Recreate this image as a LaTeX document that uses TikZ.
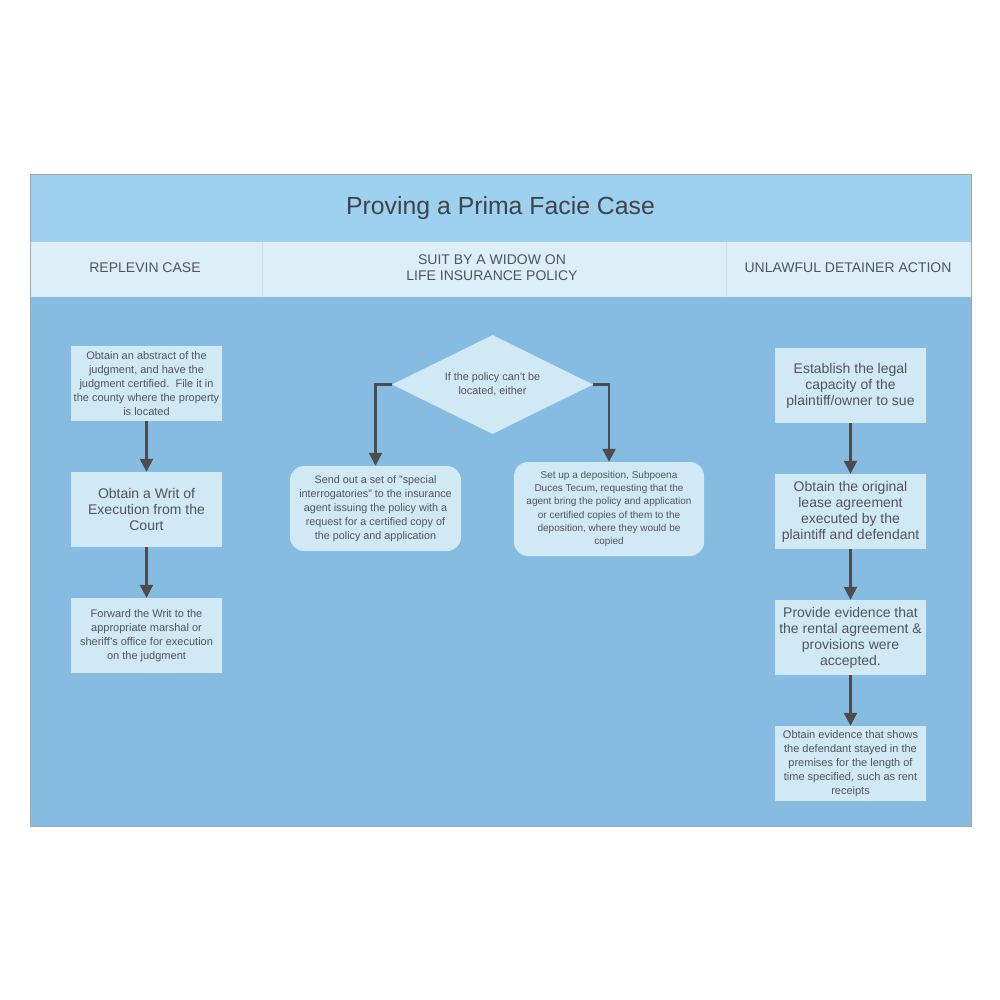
\documentclass[tikz,border=0pt]{standalone}
\usepackage{fontspec}
\setmainfont{Liberation Sans}
\usetikzlibrary{arrows.meta,positioning,shapes.geometric}
\definecolor{titleband}{HTML}{9DD1EF}
\definecolor{headband}{HTML}{DCEEF8}
\definecolor{headline}{HTML}{CBE4F3}
\definecolor{bodyband}{HTML}{86BBE2}
\definecolor{boxfill}{HTML}{D1E8F5}
\definecolor{boxtext}{HTML}{50555C}
\definecolor{arrgray}{HTML}{4C4C4C}

\begin{document}
\begin{tikzpicture}[
  x=1pt,y=-1pt,
  box/.style={fill=boxfill, draw=none, align=center, text=boxtext, minimum width=151pt, minimum height=75pt, inner sep=2pt},
  smallbox/.style={box, font=\fontsize{11}{14}\selectfont},
  bigbox/.style={box, font=\fontsize{14}{16}\selectfont},
  roundbox/.style={fill=boxfill, draw=none, rounded corners=14pt, align=center, text=boxtext, inner sep=2pt},
  head/.style={text=boxtext, align=center, font=\fontsize{14}{16}\selectfont},
  arr/.style={-{Triangle[width=13pt,length=13pt]}, line width=2.2pt, draw=arrgray}
]
\useasboundingbox (0,0) rectangle (1000,1000);
\fill[white] (0,0) rectangle (1000,1000);
% bands
\fill[bodyband] (30,175) rectangle (971,826);
\fill[titleband] (30,175) rectangle (971,242);
\fill[headband] (30,242) rectangle (971,297);
\draw[headline, line width=1pt] (262,242) -- (262,297) (726,242) -- (726,297);
\draw[gray!70, line width=1pt] (30,175) rectangle (971,826);
\node[text=boxtext!80!black, font=\fontsize{24.8}{28}\selectfont] (title) at (500.5,208) {Proving a Prima Facie Case};
\node[head] (replevin) at (145,268) {REPLEVIN CASE};
\node[head] (widow) at (492,268) {SUIT BY A WIDOW ON\\LIFE INSURANCE POLICY};
\node[head] (detainer) at (848,268) {UNLAWFUL DETAINER ACTION};
% replevin column
\node[smallbox] (abstract) at (146.5,383.5) {Obtain an abstract of the\\judgment, and have the\\judgment certified.\ \ File it in\\the county where the property\\is located};
\node[bigbox] (writ) at (146.5,509.5) {Obtain a Writ of\\Execution from the\\Court};
\node[smallbox] (forward) at (146.5,635.5) {Forward the Writ to the\\appropriate marshal or\\sheriff's office for execution\\on the judgment};
% widow column
\node[diamond, fill=boxfill, text=boxtext, align=center, inner sep=0pt, shape aspect=2, minimum width=201pt, minimum height=99pt, font=\fontsize{10.8}{14}\selectfont] (policy) at (492.5,384.5) {If the policy can't be\\located, either};
\node[roundbox, minimum width=171pt, minimum height=85pt, font=\fontsize{10.8}{14}\selectfont] (sendout) at (375.5,508.5) {Send out a set of "special\\interrogatories" to the insurance\\agent issuing the policy with a\\request for a certified copy of\\the policy and application};
\node[roundbox, minimum width=190pt, minimum height=94pt, font=\fontsize{10}{13.3}\selectfont] (deposition) at (609,509) {Set up a deposition, Subpoena\\Duces Tecum, requesting that the\\agent bring the policy and application\\or certified copies of them to the\\deposition, where they would be\\copied};
% detainer column
\node[bigbox] (capacity) at (850.5,385.5) {Establish the legal\\capacity of the\\plaintiff/owner to sue};
\node[bigbox] (lease) at (850.5,511.5) {Obtain the original\\lease agreement\\executed by the\\plaintiff and defendant};
\node[bigbox] (rental) at (850.5,637.5) {Provide evidence that\\the rental agreement \&\\provisions were\\accepted.};
\node[smallbox] (premises) at (850.5,763.5) {Obtain evidence that shows\\the defendant stayed in the\\premises for the length of\\time specified, such as rent\\receipts};
% connectors
\draw[arr] (abstract) -- (writ); \draw[arr] (writ) -- (forward);
\draw[arr] (policy.west) -| (sendout.north); \draw[arr] (policy.east) -| (deposition.north);
\draw[arr] (capacity) -- (lease); \draw[arr] (lease) -- (rental); \draw[arr] (rental) -- (premises);
\end{tikzpicture}
\end{document}
